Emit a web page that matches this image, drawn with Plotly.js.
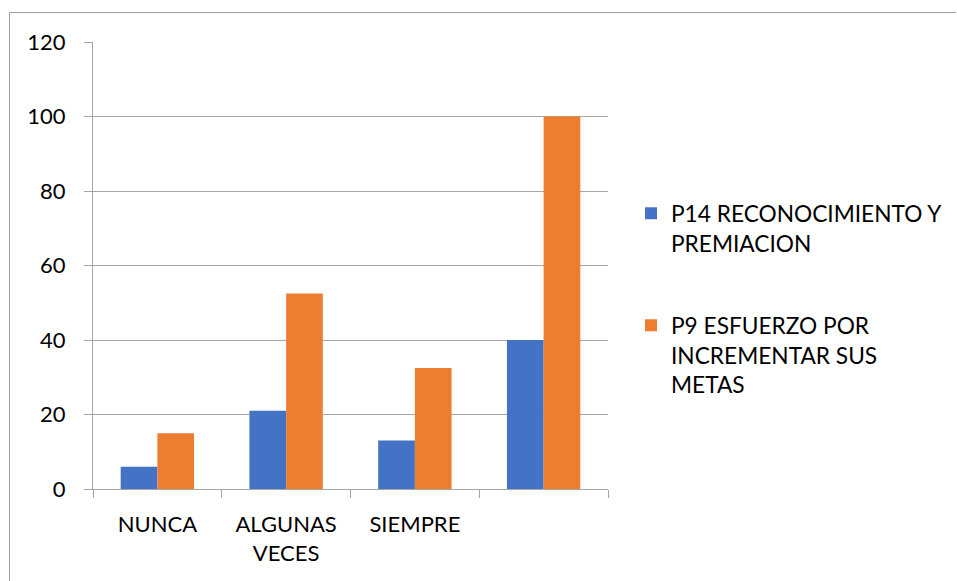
<!DOCTYPE html>
<html>
<head>
<meta charset="utf-8">
<script src="https://cdn.plot.ly/plotly-3.0.1.min.js"></script>
<style>
  html, body { margin: 0; padding: 0; background: #ffffff; }
  #chart { width: 957px; height: 581px; }
</style>
</head>
<body>
<div id="chart"></div>
<script>
// Category labels along the x axis (the fourth group carries no label)
const tickLabels = ['NUNCA', 'ALGUNAS<br>VECES', 'SIEMPRE', ''];
const categoryIndex = [0, 1, 2, 3];

// Series values
const seriesNames = ['P14 RECONOCIMIENTO Y<br>PREMIACION', 'P9 ESFUERZO POR<br>INCREMENTAR SUS<br>METAS'];
const p14Values = [6, 21, 13, 40];
const p9Values = [15, 52.5, 32.5, 100];

// Y axis ticks
const yTicks = [0, 20, 40, 60, 80, 100, 120];

const W = 957, H = 581;
const M = { l: 93, r: 349, t: 42, b: 92, autoexpand: false };
const PW = W - M.l - M.r, PH = H - M.t - M.b;
const px = x => (x - M.l) / PW;
const py = y => 1 - (y - M.t) / PH;

const FONT = 'Lato, "Liberation Sans", sans-serif';
const GRID = '#a6a6a6';

const traces = [
  { type: 'bar', x: categoryIndex, y: p14Values, name: seriesNames[0], legendgroup: 'a',
    marker: { color: '#4472C4', line: { width: 0 } }, hoverinfo: 'y' },
  { type: 'bar', x: categoryIndex, y: p9Values, name: seriesNames[1], legendgroup: 'b',
    marker: { color: '#ED7D31', line: { width: 0 } }, hoverinfo: 'y' }
];

const layout = {
  width: W, height: H,
  margin: M,
  paper_bgcolor: '#ffffff',
  plot_bgcolor: '#ffffff',
  font: { family: FONT, size: 22, color: '#000000' },
  barmode: 'group',
  bargap: 0.43,
  bargroupgap: 0,
  showlegend: true,
  legend: {
    x: px(631), xanchor: 'left',
    y: py(192), yanchor: 'top',
    traceorder: 'grouped',
    tracegroupgap: 50,
    valign: 'top',
    font: { family: FONT, size: 22.7, color: '#000000' },
    bgcolor: 'rgba(0,0,0,0)'
  },
  xaxis: {
    type: 'category',
    tickmode: 'array',
    tickvals: categoryIndex,
    ticktext: tickLabels,
    tickson: 'boundaries',
    ticks: 'outside', ticklen: 8, tickcolor: GRID, tickwidth: 1,
    showline: true, linecolor: GRID, linewidth: 1,
    showgrid: false,
    ticklabelstandoff: 16,
    tickfont: { family: FONT, size: 22, color: '#000000' },
    range: [-0.5, 3.5],
    fixedrange: true
  },
  yaxis: {
    range: [0, 120],
    tickmode: 'array',
    tickvals: yTicks,
    ticktext: yTicks.map(String),
    ticks: 'outside', ticklen: 8, tickcolor: GRID, tickwidth: 1,
    showline: true, linecolor: GRID, linewidth: 1,
    showgrid: true, gridcolor: GRID, gridwidth: 1,
    zeroline: false,
    ticklabelstandoff: 14,
    tickfont: { family: FONT, size: 22, color: '#000000' },
    fixedrange: true
  },
  shapes: [
    // frame around the chart area: top and left edges
    { type: 'line', xref: 'paper', yref: 'paper', x0: px(9.5), x1: px(956), y0: py(12.5), y1: py(12.5),
      line: { color: '#a0a0a0', width: 1 } },
    { type: 'line', xref: 'paper', yref: 'paper', x0: px(9.5), x1: px(9.5), y0: py(12.5), y1: py(590),
      line: { color: '#a0a0a0', width: 1 } }
  ]
};

Plotly.newPlot('chart', traces, layout, { displayModeBar: false, staticPlot: true });
</script>
</body>
</html>
